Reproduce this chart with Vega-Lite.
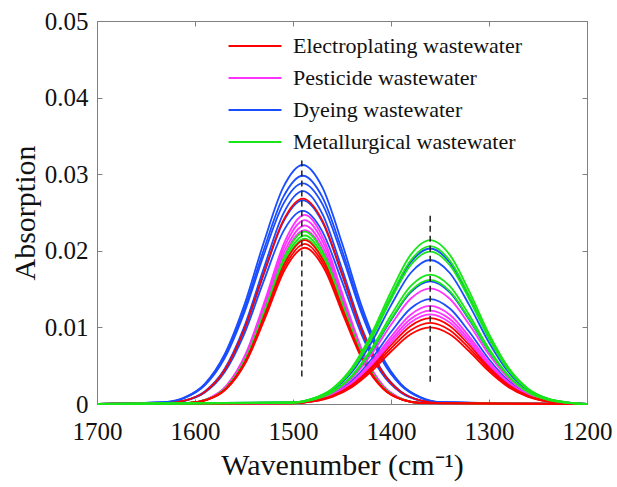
{
  "$schema": "https://vega.github.io/schema/vega-lite/v6.json",
  "width": 490,
  "height": 383,
  "autosize": "none",
  "padding": {"left": 97, "top": 21, "right": 30, "bottom": 83},
  "background": "white",
  "config": {
    "view": {"stroke": "#808080", "strokeWidth": 1},
    "axis": {"grid": false, "domainColor": "#808080", "tickColor": "#808080", "tickSize": -5, "tickWidth": 1, "labelFont": "Liberation Serif", "labelFontSize": 25, "labelColor": "#111111", "titleFont": "Liberation Serif", "titleFontSize": 30, "titleFontWeight": "normal", "titleColor": "#111111", "labelFlush": false, "labelOverlap": false},
    "legend": {"labelFont": "Liberation Serif", "labelFontSize": 22, "labelColor": "#111111", "labelLimit": 400}
  },
  "datasets": {
    "series": [
      {"s": "B1", "g": "Dyeing wastewater"}, {"s": "B2", "g": "Dyeing wastewater"}, {"s": "B3", "g": "Dyeing wastewater"}, {"s": "B4", "g": "Dyeing wastewater"}, {"s": "B5", "g": "Dyeing wastewater"}, {"s": "B6", "g": "Dyeing wastewater"}, {"s": "B7", "g": "Dyeing wastewater"}, {"s": "B8", "g": "Dyeing wastewater"}, {"s": "B9", "g": "Dyeing wastewater"}, {"s": "B10", "g": "Dyeing wastewater"},
      {"s": "R1", "g": "Electroplating wastewater"}, {"s": "R2", "g": "Electroplating wastewater"}, {"s": "R3", "g": "Electroplating wastewater"}, {"s": "R4", "g": "Electroplating wastewater"}, {"s": "R5", "g": "Electroplating wastewater"}, {"s": "R6", "g": "Electroplating wastewater"}, {"s": "R7", "g": "Electroplating wastewater"},
      {"s": "M1", "g": "Pesticide wastewater"}, {"s": "M2", "g": "Pesticide wastewater"}, {"s": "M3", "g": "Pesticide wastewater"}, {"s": "M4", "g": "Pesticide wastewater"}, {"s": "M5", "g": "Pesticide wastewater"}, {"s": "M6", "g": "Pesticide wastewater"}, {"s": "M7", "g": "Pesticide wastewater"}, {"s": "M8", "g": "Pesticide wastewater"},
      {"s": "G1", "g": "Metallurgical wastewater"}, {"s": "G2", "g": "Metallurgical wastewater"}, {"s": "G3", "g": "Metallurgical wastewater"}, {"s": "G4", "g": "Metallurgical wastewater"}, {"s": "G5", "g": "Metallurgical wastewater"}, {"s": "G6", "g": "Metallurgical wastewater"}, {"s": "G7", "g": "Metallurgical wastewater"}, {"s": "G8", "g": "Metallurgical wastewater"}
    ],
    "guides": [
      {"x": 1491, "y0": 0.0036, "y1": 0.0322},
      {"x": 1360, "y0": 0.0029, "y1": 0.0247}
    ],
    "spectra": [
      {"s":"B1","x":1700,"y":0},{"s":"B1","x":1630,"y":0.00025},{"s":"B1","x":1610,"y":0.00089},{"s":"B1","x":1590,"y":0.00264},{"s":"B1","x":1570,"y":0.00643},{"s":"B1","x":1550,"y":0.01282},{"s":"B1","x":1530,"y":0.02102},{"s":"B1","x":1510,"y":0.02827},{"s":"B1","x":1490,"y":0.0312},{"s":"B1","x":1470,"y":0.02827},{"s":"B1","x":1450,"y":0.02102},{"s":"B1","x":1430,"y":0.01282},{"s":"B1","x":1410,"y":0.00643},{"s":"B1","x":1390,"y":0.00264},{"s":"B1","x":1370,"y":0.00089},{"s":"B1","x":1350,"y":0.00025},{"s":"B1","x":1200,"y":0},
      {"s":"B2","x":1700,"y":0},{"s":"B2","x":1630,"y":0.00024},{"s":"B2","x":1610,"y":0.00085},{"s":"B2","x":1590,"y":0.00252},{"s":"B2","x":1570,"y":0.00614},{"s":"B2","x":1550,"y":0.01225},{"s":"B2","x":1530,"y":0.02007},{"s":"B2","x":1510,"y":0.027},{"s":"B2","x":1490,"y":0.0298},{"s":"B2","x":1470,"y":0.027},{"s":"B2","x":1450,"y":0.02007},{"s":"B2","x":1430,"y":0.01225},{"s":"B2","x":1410,"y":0.00614},{"s":"B2","x":1390,"y":0.00252},{"s":"B2","x":1370,"y":0.00085},{"s":"B2","x":1350,"y":0.00024},{"s":"B2","x":1200,"y":0},
      {"s":"B3","x":1700,"y":0},{"s":"B3","x":1630,"y":0.00023},{"s":"B3","x":1610,"y":0.00082},{"s":"B3","x":1590,"y":0.00244},{"s":"B3","x":1570,"y":0.00593},{"s":"B3","x":1550,"y":0.01184},{"s":"B3","x":1530,"y":0.0194},{"s":"B3","x":1510,"y":0.02609},{"s":"B3","x":1490,"y":0.0288},{"s":"B3","x":1470,"y":0.02609},{"s":"B3","x":1450,"y":0.0194},{"s":"B3","x":1430,"y":0.01184},{"s":"B3","x":1410,"y":0.00593},{"s":"B3","x":1390,"y":0.00244},{"s":"B3","x":1370,"y":0.00082},{"s":"B3","x":1350,"y":0.00023},{"s":"B3","x":1200,"y":0},
      {"s":"B4","x":1700,"y":0},{"s":"B4","x":1630,"y":0.00011},{"s":"B4","x":1610,"y":0.00047},{"s":"B4","x":1590,"y":0.00164},{"s":"B4","x":1570,"y":0.00453},{"s":"B4","x":1550,"y":0.01001},{"s":"B4","x":1530,"y":0.01765},{"s":"B4","x":1510,"y":0.02483},{"s":"B4","x":1490,"y":0.0278},{"s":"B4","x":1470,"y":0.02483},{"s":"B4","x":1450,"y":0.01765},{"s":"B4","x":1430,"y":0.01001},{"s":"B4","x":1410,"y":0.00453},{"s":"B4","x":1390,"y":0.00164},{"s":"B4","x":1370,"y":0.00047},{"s":"B4","x":1350,"y":0.00011},{"s":"B4","x":1200,"y":0},
      {"s":"B5","x":1700,"y":0},{"s":"B5","x":1630,"y":0.0001},{"s":"B5","x":1610,"y":0.00045},{"s":"B5","x":1590,"y":0.00157},{"s":"B5","x":1570,"y":0.00434},{"s":"B5","x":1550,"y":0.00958},{"s":"B5","x":1530,"y":0.01689},{"s":"B5","x":1510,"y":0.02375},{"s":"B5","x":1490,"y":0.0266},{"s":"B5","x":1470,"y":0.02375},{"s":"B5","x":1450,"y":0.01689},{"s":"B5","x":1430,"y":0.00958},{"s":"B5","x":1410,"y":0.00434},{"s":"B5","x":1390,"y":0.00157},{"s":"B5","x":1370,"y":0.00045},{"s":"B5","x":1350,"y":0.0001},{"s":"B5","x":1200,"y":0},
      {"s":"B6","x":1700,"y":0},{"s":"B6","x":1630,"y":0.0001},{"s":"B6","x":1610,"y":0.00043},{"s":"B6","x":1590,"y":0.00149},{"s":"B6","x":1570,"y":0.00411},{"s":"B6","x":1550,"y":0.00907},{"s":"B6","x":1530,"y":0.016},{"s":"B6","x":1510,"y":0.0225},{"s":"B6","x":1490,"y":0.0252},{"s":"B6","x":1470,"y":0.0225},{"s":"B6","x":1450,"y":0.016},{"s":"B6","x":1430,"y":0.00907},{"s":"B6","x":1410,"y":0.00411},{"s":"B6","x":1390,"y":0.00149},{"s":"B6","x":1370,"y":0.00043},{"s":"B6","x":1350,"y":0.0001},{"s":"B6","x":1200,"y":0},
      {"s":"R1","x":1700,"y":0},{"s":"R1","x":1630,"y":0.0001},{"s":"R1","x":1610,"y":0.00046},{"s":"R1","x":1590,"y":0.00158},{"s":"R1","x":1570,"y":0.00437},{"s":"R1","x":1550,"y":0.00965},{"s":"R1","x":1530,"y":0.01702},{"s":"R1","x":1510,"y":0.02393},{"s":"R1","x":1490,"y":0.0268},{"s":"R1","x":1470,"y":0.02393},{"s":"R1","x":1450,"y":0.01702},{"s":"R1","x":1430,"y":0.00965},{"s":"R1","x":1410,"y":0.00437},{"s":"R1","x":1390,"y":0.00158},{"s":"R1","x":1370,"y":0.00046},{"s":"R1","x":1350,"y":0.0001},{"s":"R1","x":1200,"y":0},
      {"s":"M1","x":1700,"y":0},{"s":"M1","x":1608,"y":0.00013},{"s":"M1","x":1588,"y":0.00064},{"s":"M1","x":1568,"y":0.00239},{"s":"M1","x":1548,"y":0.00663},{"s":"M1","x":1528,"y":0.01377},{"s":"M1","x":1508,"y":0.02134},{"s":"M1","x":1488,"y":0.0247},{"s":"M1","x":1468,"y":0.02134},{"s":"M1","x":1448,"y":0.01377},{"s":"M1","x":1428,"y":0.00663},{"s":"M1","x":1408,"y":0.00239},{"s":"M1","x":1388,"y":0.00064},{"s":"M1","x":1368,"y":0.00013},{"s":"M1","x":1200,"y":0},
      {"s":"M2","x":1700,"y":0},{"s":"M2","x":1608,"y":0.00012},{"s":"M2","x":1588,"y":0.00062},{"s":"M2","x":1568,"y":0.00232},{"s":"M2","x":1548,"y":0.00644},{"s":"M2","x":1528,"y":0.01338},{"s":"M2","x":1508,"y":0.02074},{"s":"M2","x":1488,"y":0.024},{"s":"M2","x":1468,"y":0.02074},{"s":"M2","x":1448,"y":0.01338},{"s":"M2","x":1428,"y":0.00644},{"s":"M2","x":1408,"y":0.00232},{"s":"M2","x":1388,"y":0.00062},{"s":"M2","x":1368,"y":0.00012},{"s":"M2","x":1200,"y":0},
      {"s":"M3","x":1700,"y":0},{"s":"M3","x":1608,"y":0.00012},{"s":"M3","x":1588,"y":0.0006},{"s":"M3","x":1568,"y":0.00225},{"s":"M3","x":1548,"y":0.00626},{"s":"M3","x":1528,"y":0.01299},{"s":"M3","x":1508,"y":0.02013},{"s":"M3","x":1488,"y":0.0233},{"s":"M3","x":1468,"y":0.02013},{"s":"M3","x":1448,"y":0.01299},{"s":"M3","x":1428,"y":0.00626},{"s":"M3","x":1408,"y":0.00225},{"s":"M3","x":1388,"y":0.0006},{"s":"M3","x":1368,"y":0.00012},{"s":"M3","x":1200,"y":0},
      {"s":"M4","x":1700,"y":0},{"s":"M4","x":1608,"y":0.00012},{"s":"M4","x":1588,"y":0.00059},{"s":"M4","x":1568,"y":0.00219},{"s":"M4","x":1548,"y":0.00609},{"s":"M4","x":1528,"y":0.01265},{"s":"M4","x":1508,"y":0.01961},{"s":"M4","x":1488,"y":0.0227},{"s":"M4","x":1468,"y":0.01961},{"s":"M4","x":1448,"y":0.01265},{"s":"M4","x":1428,"y":0.00609},{"s":"M4","x":1408,"y":0.00219},{"s":"M4","x":1388,"y":0.00059},{"s":"M4","x":1368,"y":0.00012},{"s":"M4","x":1200,"y":0},
      {"s":"G1","x":1700,"y":0},{"s":"G1","x":1608,"y":0.00012},{"s":"G1","x":1588,"y":0.00058},{"s":"G1","x":1568,"y":0.00217},{"s":"G1","x":1548,"y":0.00604},{"s":"G1","x":1528,"y":0.01254},{"s":"G1","x":1508,"y":0.01944},{"s":"G1","x":1488,"y":0.0225},{"s":"G1","x":1468,"y":0.01944},{"s":"G1","x":1448,"y":0.01254},{"s":"G1","x":1428,"y":0.00604},{"s":"G1","x":1408,"y":0.00217},{"s":"G1","x":1388,"y":0.00058},{"s":"G1","x":1368,"y":0.00012},{"s":"G1","x":1200,"y":0},
      {"s":"G2","x":1700,"y":0},{"s":"G2","x":1608,"y":0.00011},{"s":"G2","x":1588,"y":0.00057},{"s":"G2","x":1568,"y":0.00213},{"s":"G2","x":1548,"y":0.00591},{"s":"G2","x":1528,"y":0.01226},{"s":"G2","x":1508,"y":0.01901},{"s":"G2","x":1488,"y":0.022},{"s":"G2","x":1468,"y":0.01901},{"s":"G2","x":1448,"y":0.01226},{"s":"G2","x":1428,"y":0.00591},{"s":"G2","x":1408,"y":0.00213},{"s":"G2","x":1388,"y":0.00057},{"s":"G2","x":1368,"y":0.00011},{"s":"G2","x":1200,"y":0},
      {"s":"G3","x":1700,"y":0},{"s":"G3","x":1608,"y":0.00011},{"s":"G3","x":1588,"y":0.00056},{"s":"G3","x":1568,"y":0.00209},{"s":"G3","x":1548,"y":0.0058},{"s":"G3","x":1528,"y":0.01204},{"s":"G3","x":1508,"y":0.01866},{"s":"G3","x":1488,"y":0.0216},{"s":"G3","x":1468,"y":0.01866},{"s":"G3","x":1448,"y":0.01204},{"s":"G3","x":1428,"y":0.0058},{"s":"G3","x":1408,"y":0.00209},{"s":"G3","x":1388,"y":0.00056},{"s":"G3","x":1368,"y":0.00011},{"s":"G3","x":1200,"y":0},
      {"s":"R2","x":1700,"y":0},{"s":"R2","x":1608,"y":0.00011},{"s":"R2","x":1588,"y":0.00055},{"s":"R2","x":1568,"y":0.00207},{"s":"R2","x":1548,"y":0.00575},{"s":"R2","x":1528,"y":0.01193},{"s":"R2","x":1508,"y":0.01849},{"s":"R2","x":1488,"y":0.0214},{"s":"R2","x":1468,"y":0.01849},{"s":"R2","x":1448,"y":0.01193},{"s":"R2","x":1428,"y":0.00575},{"s":"R2","x":1408,"y":0.00207},{"s":"R2","x":1388,"y":0.00055},{"s":"R2","x":1368,"y":0.00011},{"s":"R2","x":1200,"y":0},
      {"s":"R3","x":1700,"y":0},{"s":"R3","x":1608,"y":0.00011},{"s":"R3","x":1588,"y":0.00054},{"s":"R3","x":1568,"y":0.00202},{"s":"R3","x":1548,"y":0.00561},{"s":"R3","x":1528,"y":0.01165},{"s":"R3","x":1508,"y":0.01806},{"s":"R3","x":1488,"y":0.0209},{"s":"R3","x":1468,"y":0.01806},{"s":"R3","x":1448,"y":0.01165},{"s":"R3","x":1428,"y":0.00561},{"s":"R3","x":1408,"y":0.00202},{"s":"R3","x":1388,"y":0.00054},{"s":"R3","x":1368,"y":0.00011},{"s":"R3","x":1200,"y":0},
      {"s":"R4","x":1700,"y":0},{"s":"R4","x":1608,"y":0.00011},{"s":"R4","x":1588,"y":0.00053},{"s":"R4","x":1568,"y":0.00197},{"s":"R4","x":1548,"y":0.00548},{"s":"R4","x":1528,"y":0.01137},{"s":"R4","x":1508,"y":0.01763},{"s":"R4","x":1488,"y":0.0204},{"s":"R4","x":1468,"y":0.01763},{"s":"R4","x":1448,"y":0.01137},{"s":"R4","x":1428,"y":0.00548},{"s":"R4","x":1408,"y":0.00197},{"s":"R4","x":1388,"y":0.00053},{"s":"R4","x":1368,"y":0.00011},{"s":"R4","x":1200,"y":0},
      {"s":"B7","x":1700,"y":0},{"s":"B7","x":1500,"y":0.0002},{"s":"B7","x":1480,"y":0.00068},{"s":"B7","x":1460,"y":0.00191},{"s":"B7","x":1440,"y":0.00447},{"s":"B7","x":1420,"y":0.00867},{"s":"B7","x":1400,"y":0.01391},{"s":"B7","x":1380,"y":0.01847},{"s":"B7","x":1360,"y":0.0203},{"s":"B7","x":1340,"y":0.01847},{"s":"B7","x":1320,"y":0.01391},{"s":"B7","x":1300,"y":0.00867},{"s":"B7","x":1280,"y":0.00447},{"s":"B7","x":1260,"y":0.00191},{"s":"B7","x":1240,"y":0.00068},{"s":"B7","x":1220,"y":0.0002},{"s":"B7","x":1200,"y":0},
      {"s":"B8","x":1700,"y":0},{"s":"B8","x":1500,"y":0.00018},{"s":"B8","x":1480,"y":0.00063},{"s":"B8","x":1460,"y":0.00177},{"s":"B8","x":1440,"y":0.00414},{"s":"B8","x":1420,"y":0.00803},{"s":"B8","x":1400,"y":0.01288},{"s":"B8","x":1380,"y":0.0171},{"s":"B8","x":1360,"y":0.0188},{"s":"B8","x":1340,"y":0.0171},{"s":"B8","x":1320,"y":0.01288},{"s":"B8","x":1300,"y":0.00803},{"s":"B8","x":1280,"y":0.00414},{"s":"B8","x":1260,"y":0.00177},{"s":"B8","x":1240,"y":0.00063},{"s":"B8","x":1220,"y":0.00018},{"s":"B8","x":1200,"y":0},
      {"s":"B9","x":1700,"y":0},{"s":"B9","x":1500,"y":0.00016},{"s":"B9","x":1480,"y":0.00053},{"s":"B9","x":1460,"y":0.00151},{"s":"B9","x":1440,"y":0.00353},{"s":"B9","x":1420,"y":0.00683},{"s":"B9","x":1400,"y":0.01096},{"s":"B9","x":1380,"y":0.01456},{"s":"B9","x":1360,"y":0.016},{"s":"B9","x":1340,"y":0.01456},{"s":"B9","x":1320,"y":0.01096},{"s":"B9","x":1300,"y":0.00683},{"s":"B9","x":1280,"y":0.00353},{"s":"B9","x":1260,"y":0.00151},{"s":"B9","x":1240,"y":0.00053},{"s":"B9","x":1220,"y":0.00016},{"s":"B9","x":1200,"y":0},
      {"s":"B10","x":1700,"y":0},{"s":"B10","x":1500,"y":0.00013},{"s":"B10","x":1480,"y":0.00046},{"s":"B10","x":1460,"y":0.00129},{"s":"B10","x":1440,"y":0.00302},{"s":"B10","x":1420,"y":0.00585},{"s":"B10","x":1400,"y":0.00939},{"s":"B10","x":1380,"y":0.01246},{"s":"B10","x":1360,"y":0.0137},{"s":"B10","x":1340,"y":0.01246},{"s":"B10","x":1320,"y":0.00939},{"s":"B10","x":1300,"y":0.00585},{"s":"B10","x":1280,"y":0.00302},{"s":"B10","x":1260,"y":0.00129},{"s":"B10","x":1240,"y":0.00046},{"s":"B10","x":1220,"y":0.00013},{"s":"B10","x":1200,"y":0},
      {"s":"M5","x":1700,"y":0},{"s":"M5","x":1500,"y":0.00015},{"s":"M5","x":1480,"y":0.0005},{"s":"M5","x":1460,"y":0.00142},{"s":"M5","x":1440,"y":0.00333},{"s":"M5","x":1420,"y":0.00645},{"s":"M5","x":1400,"y":0.01035},{"s":"M5","x":1380,"y":0.01374},{"s":"M5","x":1360,"y":0.0151},{"s":"M5","x":1340,"y":0.01374},{"s":"M5","x":1320,"y":0.01035},{"s":"M5","x":1300,"y":0.00645},{"s":"M5","x":1280,"y":0.00333},{"s":"M5","x":1260,"y":0.00142},{"s":"M5","x":1240,"y":0.0005},{"s":"M5","x":1220,"y":0.00015},{"s":"M5","x":1200,"y":0},
      {"s":"M6","x":1700,"y":0},{"s":"M6","x":1500,"y":0.00012},{"s":"M6","x":1480,"y":0.00043},{"s":"M6","x":1460,"y":0.0012},{"s":"M6","x":1440,"y":0.00282},{"s":"M6","x":1420,"y":0.00547},{"s":"M6","x":1400,"y":0.00877},{"s":"M6","x":1380,"y":0.01165},{"s":"M6","x":1360,"y":0.0128},{"s":"M6","x":1340,"y":0.01165},{"s":"M6","x":1320,"y":0.00877},{"s":"M6","x":1300,"y":0.00547},{"s":"M6","x":1280,"y":0.00282},{"s":"M6","x":1260,"y":0.0012},{"s":"M6","x":1240,"y":0.00043},{"s":"M6","x":1220,"y":0.00012},{"s":"M6","x":1200,"y":0},
      {"s":"M7","x":1700,"y":0},{"s":"M7","x":1500,"y":0.00012},{"s":"M7","x":1480,"y":0.00041},{"s":"M7","x":1460,"y":0.00115},{"s":"M7","x":1440,"y":0.00269},{"s":"M7","x":1420,"y":0.00521},{"s":"M7","x":1400,"y":0.00836},{"s":"M7","x":1380,"y":0.0111},{"s":"M7","x":1360,"y":0.0122},{"s":"M7","x":1340,"y":0.0111},{"s":"M7","x":1320,"y":0.00836},{"s":"M7","x":1300,"y":0.00521},{"s":"M7","x":1280,"y":0.00269},{"s":"M7","x":1260,"y":0.00115},{"s":"M7","x":1240,"y":0.00041},{"s":"M7","x":1220,"y":0.00012},{"s":"M7","x":1200,"y":0},
      {"s":"M8","x":1700,"y":0},{"s":"M8","x":1500,"y":0.00011},{"s":"M8","x":1480,"y":0.00039},{"s":"M8","x":1460,"y":0.0011},{"s":"M8","x":1440,"y":0.00258},{"s":"M8","x":1420,"y":0.005},{"s":"M8","x":1400,"y":0.00802},{"s":"M8","x":1380,"y":0.01064},{"s":"M8","x":1360,"y":0.0117},{"s":"M8","x":1340,"y":0.01064},{"s":"M8","x":1320,"y":0.00802},{"s":"M8","x":1300,"y":0.005},{"s":"M8","x":1280,"y":0.00258},{"s":"M8","x":1260,"y":0.0011},{"s":"M8","x":1240,"y":0.00039},{"s":"M8","x":1220,"y":0.00011},{"s":"M8","x":1200,"y":0},
      {"s":"R5","x":1700,"y":0},{"s":"R5","x":1500,"y":0.00011},{"s":"R5","x":1480,"y":0.00037},{"s":"R5","x":1460,"y":0.00105},{"s":"R5","x":1440,"y":0.00247},{"s":"R5","x":1420,"y":0.00478},{"s":"R5","x":1400,"y":0.00767},{"s":"R5","x":1380,"y":0.01019},{"s":"R5","x":1360,"y":0.0112},{"s":"R5","x":1340,"y":0.01019},{"s":"R5","x":1320,"y":0.00767},{"s":"R5","x":1300,"y":0.00478},{"s":"R5","x":1280,"y":0.00247},{"s":"R5","x":1260,"y":0.00105},{"s":"R5","x":1240,"y":0.00037},{"s":"R5","x":1220,"y":0.00011},{"s":"R5","x":1200,"y":0},
      {"s":"R6","x":1700,"y":0},{"s":"R6","x":1500,"y":0.0001},{"s":"R6","x":1480,"y":0.00035},{"s":"R6","x":1460,"y":0.001},{"s":"R6","x":1440,"y":0.00234},{"s":"R6","x":1420,"y":0.00453},{"s":"R6","x":1400,"y":0.00726},{"s":"R6","x":1380,"y":0.00964},{"s":"R6","x":1360,"y":0.0106},{"s":"R6","x":1340,"y":0.00964},{"s":"R6","x":1320,"y":0.00726},{"s":"R6","x":1300,"y":0.00453},{"s":"R6","x":1280,"y":0.00234},{"s":"R6","x":1260,"y":0.001},{"s":"R6","x":1240,"y":0.00035},{"s":"R6","x":1220,"y":0.0001},{"s":"R6","x":1200,"y":0},
      {"s":"R7","x":1700,"y":0},{"s":"R7","x":1500,"y":0.0001},{"s":"R7","x":1480,"y":0.00033},{"s":"R7","x":1460,"y":0.00094},{"s":"R7","x":1440,"y":0.0022},{"s":"R7","x":1420,"y":0.00427},{"s":"R7","x":1400,"y":0.00685},{"s":"R7","x":1380,"y":0.0091},{"s":"R7","x":1360,"y":0.01},{"s":"R7","x":1340,"y":0.0091},{"s":"R7","x":1320,"y":0.00685},{"s":"R7","x":1300,"y":0.00427},{"s":"R7","x":1280,"y":0.0022},{"s":"R7","x":1260,"y":0.00094},{"s":"R7","x":1240,"y":0.00033},{"s":"R7","x":1220,"y":0.0001},{"s":"R7","x":1200,"y":0},
      {"s":"G4","x":1700,"y":0},{"s":"G4","x":1500,"y":0.00021},{"s":"G4","x":1480,"y":0.00071},{"s":"G4","x":1460,"y":0.00201},{"s":"G4","x":1440,"y":0.00472},{"s":"G4","x":1420,"y":0.00914},{"s":"G4","x":1400,"y":0.01466},{"s":"G4","x":1380,"y":0.01947},{"s":"G4","x":1360,"y":0.0214},{"s":"G4","x":1340,"y":0.01947},{"s":"G4","x":1320,"y":0.01466},{"s":"G4","x":1300,"y":0.00914},{"s":"G4","x":1280,"y":0.00472},{"s":"G4","x":1260,"y":0.00201},{"s":"G4","x":1240,"y":0.00071},{"s":"G4","x":1220,"y":0.00021},{"s":"G4","x":1200,"y":0},
      {"s":"G5","x":1700,"y":0},{"s":"G5","x":1500,"y":0.0002},{"s":"G5","x":1480,"y":0.00069},{"s":"G5","x":1460,"y":0.00194},{"s":"G5","x":1440,"y":0.00454},{"s":"G5","x":1420,"y":0.0088},{"s":"G5","x":1400,"y":0.01412},{"s":"G5","x":1380,"y":0.01874},{"s":"G5","x":1360,"y":0.0206},{"s":"G5","x":1340,"y":0.01874},{"s":"G5","x":1320,"y":0.01412},{"s":"G5","x":1300,"y":0.0088},{"s":"G5","x":1280,"y":0.00454},{"s":"G5","x":1260,"y":0.00194},{"s":"G5","x":1240,"y":0.00069},{"s":"G5","x":1220,"y":0.0002},{"s":"G5","x":1200,"y":0},
      {"s":"G6","x":1700,"y":0},{"s":"G6","x":1500,"y":0.00019},{"s":"G6","x":1480,"y":0.00066},{"s":"G6","x":1460,"y":0.00187},{"s":"G6","x":1440,"y":0.00439},{"s":"G6","x":1420,"y":0.0085},{"s":"G6","x":1400,"y":0.01364},{"s":"G6","x":1380,"y":0.01811},{"s":"G6","x":1360,"y":0.0199},{"s":"G6","x":1340,"y":0.01811},{"s":"G6","x":1320,"y":0.01364},{"s":"G6","x":1300,"y":0.0085},{"s":"G6","x":1280,"y":0.00439},{"s":"G6","x":1260,"y":0.00187},{"s":"G6","x":1240,"y":0.00066},{"s":"G6","x":1220,"y":0.00019},{"s":"G6","x":1200,"y":0},
      {"s":"G7","x":1700,"y":0},{"s":"G7","x":1500,"y":0.00016},{"s":"G7","x":1480,"y":0.00056},{"s":"G7","x":1460,"y":0.00159},{"s":"G7","x":1440,"y":0.00372},{"s":"G7","x":1420,"y":0.00722},{"s":"G7","x":1400,"y":0.01158},{"s":"G7","x":1380,"y":0.01538},{"s":"G7","x":1360,"y":0.0169},{"s":"G7","x":1340,"y":0.01538},{"s":"G7","x":1320,"y":0.01158},{"s":"G7","x":1300,"y":0.00722},{"s":"G7","x":1280,"y":0.00372},{"s":"G7","x":1260,"y":0.00159},{"s":"G7","x":1240,"y":0.00056},{"s":"G7","x":1220,"y":0.00016},{"s":"G7","x":1200,"y":0},
      {"s":"G8","x":1700,"y":0},{"s":"G8","x":1500,"y":0.00016},{"s":"G8","x":1480,"y":0.00054},{"s":"G8","x":1460,"y":0.00152},{"s":"G8","x":1440,"y":0.00357},{"s":"G8","x":1420,"y":0.00692},{"s":"G8","x":1400,"y":0.0111},{"s":"G8","x":1380,"y":0.01474},{"s":"G8","x":1360,"y":0.0162},{"s":"G8","x":1340,"y":0.01474},{"s":"G8","x":1320,"y":0.0111},{"s":"G8","x":1300,"y":0.00692},{"s":"G8","x":1280,"y":0.00357},{"s":"G8","x":1260,"y":0.00152},{"s":"G8","x":1240,"y":0.00054},{"s":"G8","x":1220,"y":0.00016},{"s":"G8","x":1200,"y":0}
    ]
  },
  "layer": [
    {
      "data": {"name": "spectra"},
      "transform": [{"lookup": "s", "from": {"data": {"name": "series"}, "key": "s", "fields": ["g"]}}],
      "mark": {"type": "line", "interpolate": "monotone", "strokeWidth": 1.8},
      "encoding": {
        "x": {"field": "x", "type": "quantitative", "scale": {"domain": [1200, 1700], "reverse": true, "nice": false, "zero": false},
              "axis": {"orient": "bottom", "values": [1700, 1600, 1500, 1400, 1300, 1200], "format": "d", "labelPadding": 20, "title": "Wavenumber (cm⁻¹)", "titlePadding": 6}},
        "y": {"field": "y", "type": "quantitative", "scale": {"domain": [0, 0.05], "nice": false},
              "axis": {"orient": "left", "values": [0, 0.01, 0.02, 0.03, 0.04, 0.05], "labelExpr": "datum.value == 0 ? '0' : format(datum.value, '.2f')", "labelPadding": 14, "title": "Absorption", "titlePadding": 4}},
        "detail": {"field": "s", "type": "nominal"},
        "color": {"field": "g", "type": "nominal",
                  "scale": {"domain": ["Electroplating wastewater", "Pesticide wastewater", "Dyeing wastewater", "Metallurgical wastewater"], "range": ["#ff0000", "#ff33ff", "#1a4dff", "#19e619"]},
                  "legend": {"orient": "none", "legendX": 147, "legendY": 14, "title": null, "symbolType": "M-5,0H5", "symbolSize": 112, "symbolStrokeWidth": 2, "labelOffset": 27, "rowPadding": 10}}
      }
    },
    {
      "data": {"name": "guides"},
      "mark": {"type": "rule", "color": "#222222", "strokeWidth": 1.5, "strokeDash": [6, 4]},
      "encoding": {
        "x": {"field": "x", "type": "quantitative", "scale": {"domain": [1200, 1700], "reverse": true, "nice": false, "zero": false},
              "axis": {"orient": "top", "values": [1700, 1600, 1500, 1400, 1300, 1200], "labels": false, "title": null}},
        "y": {"field": "y0", "type": "quantitative", "scale": {"domain": [0, 0.05], "nice": false},
              "axis": {"orient": "right", "values": [0, 0.01, 0.02, 0.03, 0.04, 0.05], "labels": false, "title": null}},
        "y2": {"field": "y1"}
      }
    }
  ],
  "resolve": {"axis": {"x": "independent", "y": "independent"}}
}
